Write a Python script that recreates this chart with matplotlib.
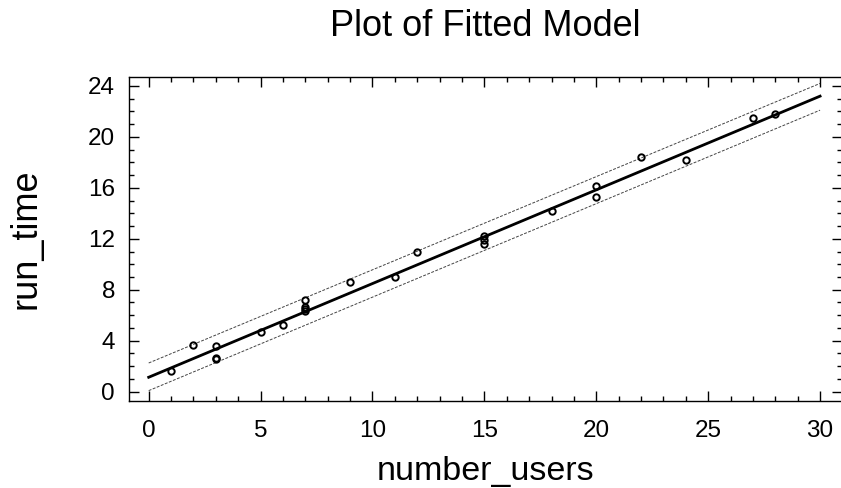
import matplotlib
matplotlib.use("Agg")
import matplotlib.pyplot as plt
from matplotlib.ticker import MultipleLocator

plt.rcParams['font.family'] = ['Liberation Sans', 'DejaVu Sans']

# observed points
number_users = [1, 2, 3, 3, 3, 5, 6, 7, 7, 7, 7, 9, 11, 12,
                15, 15, 15, 18, 20, 20, 22, 24, 27, 28]
run_time = [1.62, 3.64, 3.59, 2.67, 2.54, 4.69, 5.24, 7.2, 6.67, 6.47, 6.31,
            8.61, 9.03, 10.94, 12.25, 11.9, 11.59, 14.16, 16.15, 15.28,
            18.4, 18.19, 21.46, 21.77]

# fitted line and limits, read at the ends of the x range
line_x = [0, 30]
fit_y = [1.13, 23.2]
upper_y = [2.25, 24.2]
lower_y = [0.08, 22.1]

fig = plt.figure(figsize=(8.41, 4.88), dpi=100)
ax = fig.add_axes([129 / 841, 1 - 400.7 / 488, (842 - 129) / 841, (400.7 - 77.3) / 488])

ax.plot(line_x, upper_y, color='#444444', lw=0.7, linestyle=(0, (3, 1.5)))
ax.plot(line_x, lower_y, color='#444444', lw=0.7, linestyle=(0, (3, 1.5)))
ax.plot(line_x, fit_y, color='black', lw=2.0)
ax.plot(number_users, run_time, 'o', ms=4.6, mfc='none', mec='black', mew=1.4)

ax.set_xlim(-0.88, 30.98)
ax.set_ylim(-0.71, 24.68)
ax.xaxis.set_major_locator(MultipleLocator(5))
ax.xaxis.set_minor_locator(MultipleLocator(1))
ax.yaxis.set_major_locator(MultipleLocator(4))
ax.yaxis.set_minor_locator(MultipleLocator(1))
ax.tick_params(which='both', direction='in', top=True, right=True, labelsize=17.5)
ax.tick_params(which='major', length=7, width=1)
ax.tick_params(which='minor', length=3.5, width=1)
ax.tick_params(axis='y', pad=10)
ax.tick_params(axis='x', pad=14)
for s in ax.spines.values():
    s.set_linewidth(1.0)

ax.set_title("Plot of Fitted Model", fontsize=26, pad=30)
ax.set_xlabel("number_users", fontsize=24.5, labelpad=10)
ax.set_ylabel("run_time", fontsize=26, labelpad=32)

fig.savefig("out.png", dpi=100)
